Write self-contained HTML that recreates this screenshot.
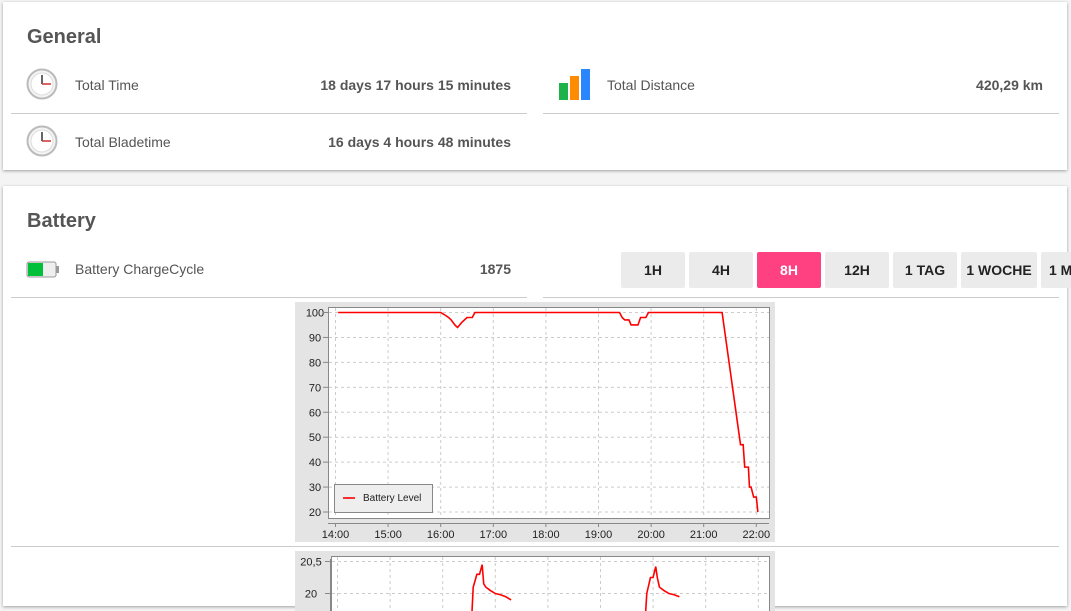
<!DOCTYPE html>
<html><head><meta charset="utf-8"><style>
body{margin:0;width:1071px;height:600px;overflow:hidden;background:#f4f4f4;font-family:"Liberation Sans",sans-serif;position:relative}
.card{position:absolute;left:3px;width:1064px;background:#fff;box-shadow:0 1px 3px rgba(0,0,0,.35)}
.abs{position:absolute}
h2{position:absolute;margin:0;font-size:20px;font-weight:bold;color:#555}
.lbl{position:absolute;font-size:14px;color:#555}
.val{position:absolute;font-size:14px;font-weight:bold;color:#555;text-align:right}
.hr{position:absolute;height:1px;background:#ccc}
.btn{position:absolute;top:252px;height:36px;width:64px;background:#ebebeb;border-radius:2px;font-size:14px;font-weight:bold;color:#222;text-align:center;line-height:36px}
</style></head><body>
<div class="card" style="top:2px;height:168px"></div>
<div class="card" style="top:186px;height:420px"></div>
<h2 style="left:27px;top:26px">General</h2>
<svg class="abs" style="left:26px;top:68px" width="32" height="32"><circle cx="16" cy="16" r="14.5" fill="#f4f4f4" stroke="#bbb" stroke-width="2"/><circle cx="16" cy="16" r="11" fill="#fff" stroke="#ddd"/><line x1="16" y1="16" x2="16" y2="7" stroke="#333" stroke-width="1.5"/><line x1="16" y1="16" x2="25" y2="16" stroke="#c33" stroke-width="1.5"/></svg>
<div class="lbl" style="left:75px;top:77px">Total Time</div>
<div class="val" style="right:560px;top:77px">18 days 17 hours 15 minutes</div>
<div class="hr" style="left:11px;width:516px;top:113px"></div>
<svg class="abs" style="left:26px;top:125px" width="32" height="32"><circle cx="16" cy="16" r="14.5" fill="#f4f4f4" stroke="#bbb" stroke-width="2"/><circle cx="16" cy="16" r="11" fill="#fff" stroke="#ddd"/><line x1="16" y1="16" x2="16" y2="7" stroke="#333" stroke-width="1.5"/><line x1="16" y1="16" x2="25" y2="16" stroke="#c33" stroke-width="1.5"/></svg>
<div class="lbl" style="left:75px;top:134px">Total Bladetime</div>
<div class="val" style="right:560px;top:134px">16 days 4 hours 48 minutes</div>
<svg class="abs" style="left:558px;top:68px" width="34" height="34"><rect x="1" y="15" width="9" height="17" fill="#1db34a"/><rect x="12" y="8" width="9" height="24" fill="#ff8c00"/><rect x="23" y="1" width="9" height="31" fill="#2a86ff"/></svg>
<div class="lbl" style="left:607px;top:77px">Total Distance</div>
<div class="val" style="right:28px;top:77px">420,29 km</div>
<div class="hr" style="left:543px;width:516px;top:113px"></div>

<h2 style="left:27px;top:210px">Battery</h2>
<svg class="abs" style="left:26px;top:261px" width="34" height="17"><rect x="1" y="1" width="29" height="15" rx="2" fill="#eee" stroke="#999"/><rect x="2" y="2" width="15" height="13" fill="#00c03a"/><rect x="30" y="5" width="3" height="7" fill="#999"/></svg>
<div class="lbl" style="left:75px;top:261px">Battery ChargeCycle</div>
<div class="val" style="right:560px;top:261px">1875</div>
<div class="hr" style="left:11px;width:516px;top:297px"></div>
<div class="hr" style="left:543px;width:516px;top:297px"></div>
<div class="btn" style="left:621px">1H</div>
<div class="btn" style="left:689px">4H</div>
<div class="btn" style="left:757px;background:#ff4081;color:#fff">8H</div>
<div class="btn" style="left:825px">12H</div>
<div class="btn" style="left:893px">1 TAG</div>
<div class="btn" style="left:961px;width:76px">1 WOCHE</div>
<div class="btn" style="left:1041px;width:40px;text-align:left;padding-left:8px;box-sizing:border-box">1 M</div>
<div class="hr" style="left:11px;width:1048px;top:546px"></div>

<svg class="abs" id="c1" style="left:295px;top:302px" width="480" height="240"></svg>
<svg class="abs" id="c2" style="left:295px;top:551px" width="480" height="60"></svg>
<script>
const xTickLabels=["14:00","15:00","16:00","17:00","18:00","19:00","20:00","21:00","22:00"];
const yTicks=[20,30,40,50,60,70,80,90,100];
const batTime=[14.05,16.0,16.08,16.15,16.2,16.27,16.32,16.4,16.5,16.6,16.65,19.4,19.45,19.5,19.58,19.62,19.75,19.8,19.9,19.95,21.35,21.7,21.75,21.78,21.85,21.87,21.9,21.95,22.0,22.03];
const batLevel=[100,100,99,98,97,95,94,96,98,98,100,100,98,97,97,95,95,98,98,100,100,47,47,38,38,30,30,26,26,20];
const tempTicks=[20,20.5];
const tempTime=[16.55,16.58,16.65,16.7,16.75,16.78,16.82,16.9,17.0,17.1,17.2,17.3,19.85,19.88,19.95,20.0,20.05,20.08,20.12,20.2,20.3,20.4,20.5];
const tempVal=[19.6,20.1,20.3,20.3,20.45,20.15,20.1,20.05,20.0,19.98,19.95,19.9,19.6,20.0,20.25,20.25,20.42,20.25,20.1,20.05,20.0,19.98,19.95];
const NS="http://www.w3.org/2000/svg";
function mk(p,t,a){const e=document.createElementNS(NS,t);for(const k in a)e.setAttribute(k,a[k]);p.appendChild(e);return e;}
const xs=h=>40.5+(h-14)*52.6;
// chart 1
const s1=document.getElementById('c1');
const ys=v=>10.5+(100-v)*(199.5/80);
mk(s1,'rect',{x:0,y:0,width:480,height:240,fill:'#e4e4e4'});
mk(s1,'rect',{x:33.5,y:5.5,width:441,height:211,fill:'#fff',stroke:'#888'});
yTicks.forEach(v=>{const g=mk(s1,'line',{x1:34,x2:474,y1:ys(v),y2:ys(v),stroke:'#ccc','stroke-dasharray':'3,3'});


const t=mk(s1,'text',{x:20,y:ys(v)+4,'font-size':11,'text-anchor':'middle',fill:'#222','font-family':'Liberation Sans'});t.textContent=v;


mk(s1,'line',{x1:28,x2:33,y1:ys(v),y2:ys(v),stroke:'#888'});});
mk(s1,'line',{x1:33.5,x2:33.5,y1:8,y2:216,stroke:'#888'});
mk(s1,'line',{x1:33,x2:474,y1:221.5,y2:221.5,stroke:'#888'});
xTickLabels.forEach((l,i)=>{const x=xs(14+i);mk(s1,'line',{x1:x,x2:x,y1:6,y2:216,stroke:'#ccc','stroke-dasharray':'3,3'});
mk(s1,'line',{x1:x,x2:x,y1:221,y2:225,stroke:'#888'});
const t=mk(s1,'text',{x:x,y:236,'font-size':11,'text-anchor':'middle',fill:'#222','font-family':'Liberation Sans'});t.textContent=l;

});
const p1=mk(s1,'polyline',{points:batTime.map((t,i)=>xs(t)+','+ys(batLevel[i])).join(' '),fill:'none',stroke:'#f00','stroke-width':1.6});


const lg=mk(s1,'g',{});


mk(lg,'rect',{x:39.5,y:182.5,width:98,height:28,fill:'#eee',stroke:'#888'});
mk(lg,'line',{x1:48,x2:60,y1:196,y2:196,stroke:'#f00','stroke-width':1.6});
const lt=mk(lg,'text',{x:68,y:199,'font-size':10,fill:'#222','font-family':'Liberation Sans'});lt.textContent='Battery Level';
// chart 2
const s2=document.getElementById('c2');
const ys2=v=>10.5+(20.5-v)*64;
mk(s2,'rect',{x:0,y:0,width:480,height:60,fill:'#e4e4e4'});
mk(s2,'rect',{x:36.5,y:5.5,width:438,height:60,fill:'#fff',stroke:'#888'});
tempTicks.forEach(v=>{mk(s2,'line',{x1:37,x2:474,y1:ys2(v),y2:ys2(v),stroke:'#ccc','stroke-dasharray':'3,3'});
mk(s2,'line',{x1:30,x2:35,y1:ys2(v),y2:ys2(v),stroke:'#888'});
const t=mk(s2,'text',{x:16,y:ys2(v)+4,'font-size':11,'text-anchor':'middle',fill:'#222','font-family':'Liberation Sans'});t.textContent=String(v).replace('.',',');

});
mk(s2,'line',{x1:35.5,x2:35.5,y1:8,y2:60,stroke:'#888'});
xTickLabels.forEach((l,i)=>{const x=xs(14+i)+2;mk(s2,'line',{x1:x,x2:x,y1:6,y2:60,stroke:'#ccc','stroke-dasharray':'3,3'});});
const p2=mk(s2,'polyline',{points:tempTime.slice(0,12).map((t,i)=>(xs(t)+2)+','+ys2(tempVal[i])).join(' '),fill:'none',stroke:'#f00','stroke-width':1.6});


const p3=mk(s2,'polyline',{points:tempTime.slice(12).map((t,i)=>(xs(t)+2)+','+ys2(tempVal[i+12])).join(' '),fill:'none',stroke:'#f00','stroke-width':1.6});


</script>
</body></html>
